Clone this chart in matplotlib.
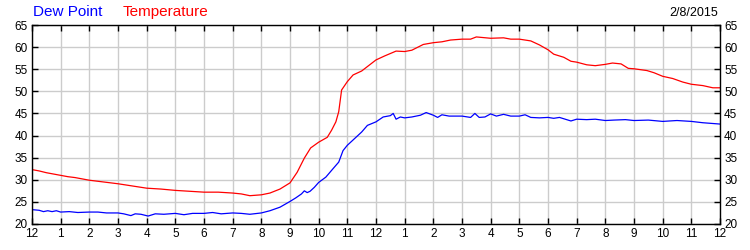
import matplotlib
matplotlib.use("Agg")
import matplotlib.pyplot as plt

plt.rcParams['font.family'] = ['Liberation Sans', 'DejaVu Sans']

temp_hours = [0, 0.25, 0.5, 0.75, 1, 1.25, 1.5, 1.75, 2, 2.5, 3, 3.5, 4, 4.5, 5, 5.5, 6, 6.5, 7, 7.3, 7.6,
              8, 8.3, 8.65, 9, 9.25, 9.5, 9.72, 10, 10.3, 10.45, 10.6, 10.7, 10.8, 11, 11.2, 11.5, 11.7,
              12, 12.3, 12.7, 13, 13.25, 13.65, 14, 14.3, 14.6, 15, 15.3, 15.5, 16, 16.45, 16.7, 17, 17.4,
              17.7, 18, 18.2, 18.55, 18.8, 19, 19.35, 19.65, 20, 20.25, 20.55, 20.8, 21, 21.45, 21.7, 22,
              22.35, 22.7, 23, 23.4, 23.75, 24]
temperature = [32.3, 32.0, 31.6, 31.3, 31.0, 30.7, 30.5, 30.2, 29.9, 29.5, 29.1, 28.6, 28.1, 27.9, 27.6, 27.4,
               27.2, 27.2, 27.0, 26.8, 26.4, 26.6, 27.0, 27.9, 29.3, 31.7, 34.9, 37.2, 38.5, 39.6, 41.2, 43.1,
               45.4, 50.3, 52.2, 53.7, 54.6, 55.6, 57.1, 58.0, 59.1, 59.0, 59.3, 60.6, 61.0, 61.2, 61.6, 61.8,
               61.8, 62.3, 62.0, 62.1, 61.8, 61.8, 61.4, 60.5, 59.4, 58.4, 57.7, 56.8, 56.6, 56.0, 55.8, 56.1,
               56.4, 56.2, 55.2, 55.1, 54.7, 54.2, 53.4, 52.9, 52.1, 51.6, 51.3, 50.8, 50.8]

dew_hours = [0, 0.25, 0.4, 0.55, 0.7, 0.85, 1, 1.3, 1.6, 2, 2.3, 2.6, 3, 3.2, 3.45, 3.6, 3.8, 4.05, 4.3, 4.6,
             5, 5.3, 5.6, 6, 6.3, 6.6, 7, 7.3, 7.6, 8, 8.3, 8.65, 9, 9.2, 9.4, 9.5, 9.6, 9.7, 9.85, 10, 10.25,
             10.5, 10.7, 10.85, 11, 11.25, 11.5, 11.7, 12, 12.25, 12.5, 12.6, 12.7, 12.85, 13, 13.25, 13.55,
             13.75, 14, 14.15, 14.3, 14.55, 15, 15.3, 15.45, 15.6, 15.8, 16, 16.2, 16.45, 16.7, 17, 17.2, 17.4,
             17.7, 18, 18.2, 18.4, 18.6, 18.8, 19, 19.35, 19.65, 20, 20.3, 20.7, 21, 21.5, 22, 22.5, 23, 23.4, 24]
dew_point = [23.25, 23.1, 22.8, 23.0, 22.8, 23.0, 22.7, 22.8, 22.6, 22.7, 22.7, 22.5, 22.5, 22.3, 21.9, 22.3,
             22.2, 21.8, 22.3, 22.2, 22.4, 22.1, 22.4, 22.4, 22.6, 22.3, 22.5, 22.4, 22.2, 22.5, 23.0, 23.8,
             25.1, 25.9, 26.8, 27.5, 27.1, 27.4, 28.3, 29.4, 30.6, 32.5, 34.0, 36.6, 37.8, 39.3, 40.8, 42.3,
             43.1, 44.2, 44.5, 45.0, 43.7, 44.2, 44.0, 44.2, 44.6, 45.2, 44.6, 44.1, 44.7, 44.4, 44.4, 44.1,
             45.0, 44.1, 44.2, 44.9, 44.4, 44.8, 44.4, 44.4, 44.7, 44.1, 44.0, 44.1, 43.9, 44.1, 43.7, 43.3,
             43.7, 43.6, 43.7, 43.4, 43.5, 43.6, 43.4, 43.5, 43.2, 43.4, 43.2, 42.9, 42.6]

x_ticks = list(range(0, 25))
x_labels = ['12', '1', '2', '3', '4', '5', '6', '7', '8', '9', '10', '11',
            '12', '1', '2', '3', '4', '5', '6', '7', '8', '9', '10', '11', '12']
y_ticks = [20, 25, 30, 35, 40, 45, 50, 55, 60, 65]
date_label = '2/8/2015'

fig = plt.figure(figsize=(7.5, 2.5), dpi=100)
ax = fig.add_axes([32/750, 1-224/250, (720-32)/750, (224-25)/250])

ax.plot(dew_hours, dew_point, color='#0000ff', lw=0.9)
ax.plot(temp_hours, temperature, color='#ff0000', lw=0.9)

ax.set_xlim(0, 24)
ax.set_ylim(20, 65)
ax.set_xticks(x_ticks)
ax.set_xticklabels(x_labels)
ax.set_yticks(y_ticks)
ax.grid(True, color='#cccccc', lw=1)
ax.set_axisbelow(True)
ax.tick_params(direction='in', length=4, width=1, labelsize=8.5, top=True, right=True,
               labelright=True, pad=3, colors='black')
for s in ax.spines.values():
    s.set_linewidth(1)
    s.set_color('black')

fig.text(33/750, 1-12/250, 'Dew Point', color='#0000ff', fontsize=11, va='center', ha='left')
fig.text(123/750, 1-12/250, 'Temperature', color='#ff0000', fontsize=11, va='center', ha='left')
fig.text(718/750, 1-13/250, date_label, color='black', fontsize=9, va='center', ha='right')

fig.savefig('out.png', dpi=100)
